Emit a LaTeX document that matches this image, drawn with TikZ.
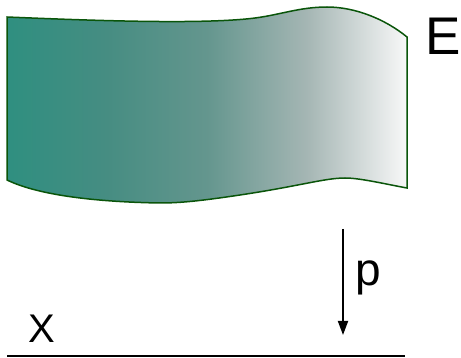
\documentclass[tikz,border=0pt]{standalone}
\usepackage{fontspec}
\setmainfont{Liberation Sans}
\usetikzlibrary{arrows.meta}
\definecolor{c0}{RGB}{47,143,128}
\definecolor{c1}{RGB}{70,141,130}
\definecolor{c2}{RGB}{100,150,142}
\definecolor{c3}{RGB}{165,182,180}
\definecolor{c4}{RGB}{248,248,248}
\definecolor{edgegreen}{RGB}{10,85,10}
\pgfdeclarehorizontalshading{bandshade}{100bp}{color(0bp)=(c0); color(25bp)=(c0); color(37.5bp)=(c1); color(50bp)=(c2); color(62.5bp)=(c3); color(75bp)=(c4); color(100bp)=(c4)}
\tikzset{
  lbl/.style={inner sep=0pt, outer sep=0pt, anchor=base west, text=black},
  arr/.style={line width=1.8pt, -{Triangle[length=14pt,width=10pt]}},
  baseline/.style={line width=1.2pt},
  band/.style={shading=bandshade, draw=edgegreen, line width=1.5pt}
}
\begin{document}
\begin{tikzpicture}[x=1pt,y=-1pt]
\useasboundingbox (0,0) rectangle (461,358);
\shade[band] (7,17) .. controls (80,20) and (200,25) .. (255,18)
  .. controls (280,14.8) and (300,7) .. (327,7)
  .. controls (355,7) and (385,19) .. (407,37)
  -- (407,188)
  .. controls (385,184) and (360,178) .. (345,178)
  .. controls (325,178) and (300,186) .. (240,195)
  .. controls (200,201) and (180,203) .. (160,203)
  .. controls (100,202) and (40,196) .. (7,180) -- cycle;
\node[lbl, font=\fontsize{53}{60}\selectfont] (E) at (425.5,55) {E};
\coordinate (ptop) at (343,229);
\coordinate (pbot) at (343,335);
\draw[arr] (ptop) -- (pbot);
\node[lbl, font=\fontsize{46}{52}\selectfont] (p) at (355,285.5) {p};
\node[lbl, font=\fontsize{40}{46}\selectfont] (X) at (28,342) {X};
\coordinate (la) at (7,356);
\coordinate (lb) at (405,356);
\draw[baseline] (la) -- (lb);
\end{tikzpicture}
\end{document}
